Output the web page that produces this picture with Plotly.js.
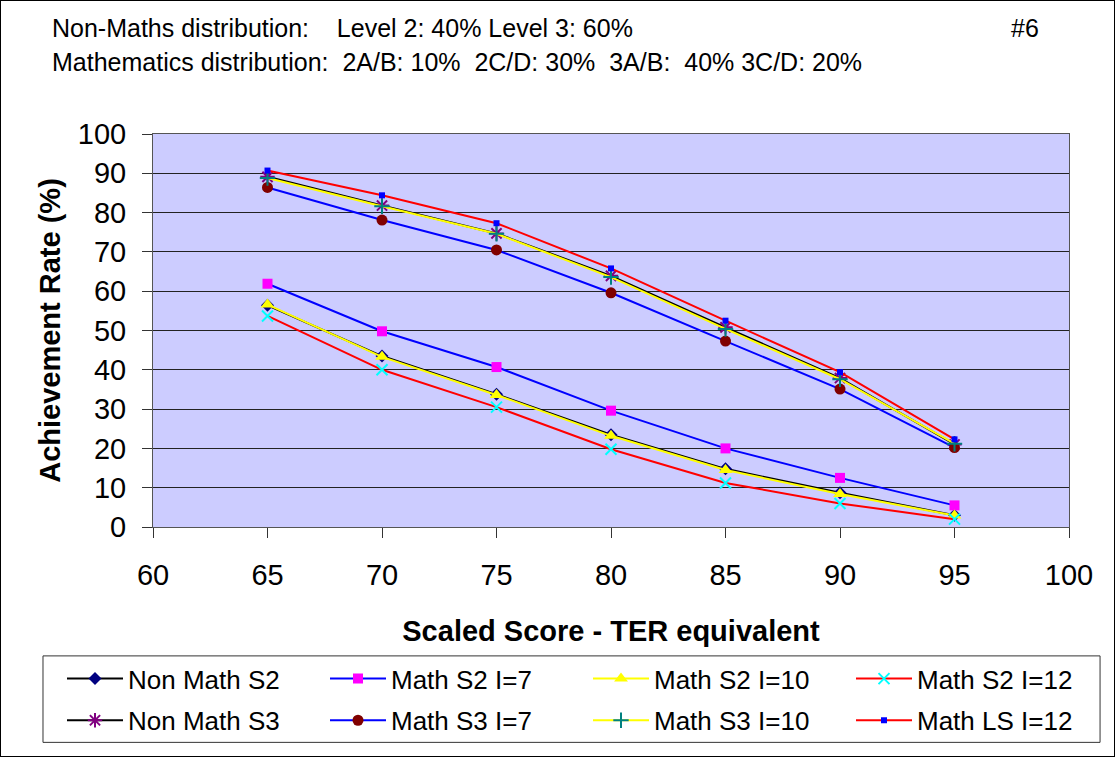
<!DOCTYPE html>
<html><head><meta charset="utf-8">
<script src="https://cdn.plot.ly/plotly-3.0.1.min.js"></script>
<style>html,body{margin:0;padding:0;background:#fff}#c{width:1115px;height:757px;box-sizing:border-box;border:1px solid #000}</style>
</head><body><div id="c"></div>
<script>
const scores = [65, 70, 75, 80, 85, 90, 95];
const nonMathS2 = [56.4, 43.5, 33.8, 23.5, 14.8, 8.7, 3.0];
const mathS2I7 = [61.9, 49.8, 40.7, 29.6, 20.0, 12.5, 5.5];
const mathS2I10 = [56.6, 43.3, 33.6, 23.2, 14.5, 8.4, 2.9];
const mathS2I12 = [53.7, 40.0, 30.5, 19.8, 11.2, 6.0, 2.0];
const nonMathS3 = [89.1, 81.8, 74.7, 63.9, 50.8, 37.9, 21.0];
const mathS3I7 = [86.4, 78.1, 70.5, 59.6, 47.3, 35.1, 20.2];
const mathS3I10 = [88.8, 81.6, 74.6, 63.6, 50.4, 37.6, 21.2];
const mathLSI12 = [90.7, 84.4, 77.3, 65.8, 52.5, 39.4, 22.3];

const names = ["Non Math S2","Math S2 I=7","Math S2 I=10","Math S2 I=12","Non Math S3","Math S3 I=7","Math S3 I=10","Math LS I=12"];
const series = [nonMathS2, mathS2I7, mathS2I10, mathS2I12, nonMathS3, mathS3I7, mathS3I10, mathLSI12];
const lineColors = ["#000000","#0000FF","#FFFF00","#FF0000","#000000","#0000FF","#FFFF00","#FF0000"];
const markerSyms = ["diamond","square","triangle-up","x-thin","asterisk-open","circle","cross-thin","square"];
const markerColors = ["#000080","#FF00FF","#FFFF00","#00FFFF","#800080","#800000","#008080","#0000FF"];
const markerSizes = [10, 10, 12, 11, 12, 11, 11, 6];
const legendRow = ["legend","legend","legend","legend","legend2","legend2","legend2","legend2"];

const traces = series.map((s, i) => ({
  x: scores, y: s, name: names[i], type: 'scatter', mode: 'lines+markers', legend: legendRow[i],
  line: {color: lineColors[i], width: 2},
  marker: {symbol: markerSyms[i], color: markerColors[i], size: markerSizes[i],
           line: {color: markerColors[i], width: (markerSyms[i].indexOf('thin')>=0 || markerSyms[i].indexOf('asterisk')>=0) ? 2 : 0}}
}));

const font = "Arial, 'Liberation Sans', sans-serif";
const S = '&nbsp;';
const legendBase = {orientation: 'h', xref: 'paper', yref: 'paper', x: -0.0983,
           xanchor: 'left', yanchor: 'middle', bgcolor: 'rgba(0,0,0,0)', borderwidth: 0,
           font: {size: 26, family: font}, entrywidth: 192, traceorder: 'normal', itemwidth: 56};
const layout = {
  width: 1113, height: 755,
  paper_bgcolor: '#FFFFFF', plot_bgcolor: '#CCCCFF',
  margin: {l: 152, r: 45, t: 133, b: 226},
  font: {family: font, color: '#000', size: 20},
  showlegend: true,
  legend: Object.assign({}, legendBase, {y: -0.386}),
  legend2: Object.assign({}, legendBase, {y: -0.492}),
  shapes: [{type: 'rect', xref: 'paper', yref: 'paper', x0: -0.1201, x1: 1.0339, y0: -0.548, y1: -0.328,
            line: {color: '#333', width: 1}, fillcolor: 'rgba(0,0,0,0)', layer: 'below'}],
  xaxis: {range: [60, 100], dtick: 5, tick0: 60, showgrid: false, zeroline: false,
          showline: true, linecolor: '#555', linewidth: 1, mirror: true,
          ticks: 'outside', ticklen: 10, tickcolor: '#333', tickfont: {size: 29}, ticklabelstandoff: 12,
          title: {text: '<b>Scaled Score - TER equivalent</b>', font: {size: 29}, standoff: 30}},
  yaxis: {range: [0, 100], dtick: 10, showgrid: true, gridcolor: '#222', gridwidth: 1, zeroline: false,
          showline: true, linecolor: '#555', linewidth: 1, mirror: true,
          ticks: 'outside', ticklen: 10, tickcolor: '#333', tickfont: {size: 29}, ticklabelstandoff: 10,
          title: {text: '<b>Achievement Rate (%)</b>', font: {size: 29}, standoff: 8}},
  annotations: [
    {xref: 'paper', yref: 'paper', x: -0.1124, y: 1.27, xanchor: 'left', yanchor: 'middle', showarrow: false,
     text: 'Non-Maths distribution:' + S.repeat(4) + 'Level 2: 40% Level 3: 60%', font: {size: 25}},
    {xref: 'paper', yref: 'paper', x: -0.1124, y: 1.184, xanchor: 'left', yanchor: 'middle', showarrow: false,
     text: 'Mathematics distribution:' + S.repeat(2) + '2A/B: 10%' + S.repeat(2) + '2C/D: 30%' + S.repeat(2) + '3A/B:' + S.repeat(2) + '40% 3C/D: 20%', font: {size: 25}},
    {xref: 'paper', yref: 'paper', x: 0.952, y: 1.27, xanchor: 'center', yanchor: 'middle', showarrow: false,
     text: '#6', font: {size: 25}}
  ]
};
Plotly.newPlot('c', traces, layout, {displayModeBar: false, staticPlot: true});
</script></body></html>
